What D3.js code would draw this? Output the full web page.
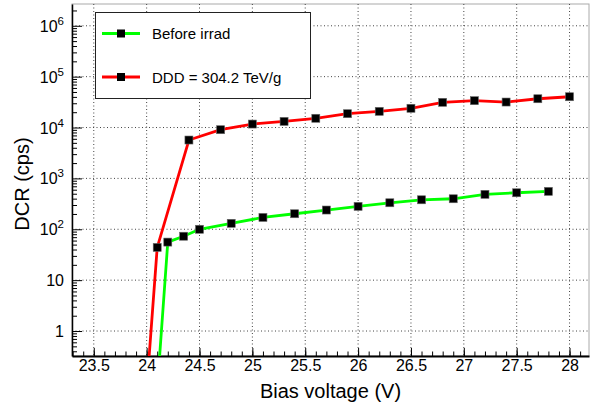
<!DOCTYPE html>
<html>
<head>
<meta charset="utf-8">
<script src="https://cdn.jsdelivr.net/npm/d3@7"></script>
<style>
  body { margin: 0; background: #fff; }
  text { font-family: "Liberation Sans", Arial, sans-serif; }
</style>
</head>
<body>
<svg id="chart" width="591" height="406"></svg>
<script>
// bias voltage (V) and dark count rate (cps) for both measurements
var voltBefore = [24.1, 24.2, 24.35, 24.5, 24.8, 25.1, 25.4, 25.7, 26.0, 26.3, 26.6, 26.9, 27.2, 27.5, 27.8];
var dcrBefore  = [0.07, 56, 73, 100, 131, 171, 202, 239, 282, 332, 380, 398, 486, 522, 556];

var voltIrrad = [24.0, 24.1, 24.4, 24.7, 25.0, 25.3, 25.6, 25.9, 26.2, 26.5, 26.8, 27.1, 27.4, 27.7, 28.0];
var dcrIrrad  = [0.07, 44, 5680, 9060, 11700, 13200, 15200, 18700, 20800, 23900, 31300, 33700, 31700, 36800, 40300];

var xTicks = [23.5, 24, 24.5, 25, 25.5, 26, 26.5, 27, 27.5, 28];
var yTicks = [1, 10, 100, 1e3, 1e4, 1e5, 1e6];
var legendLabels = ["Before irrad", "DDD = 304.2 TeV/g"];

var svg = d3.select("#chart");
var fLeft = 72, fRight = 589, fTop = 4, fBottom = 356;

var x = d3.scaleLinear().domain([23.294, 28.184]).range([fLeft, fRight]);
var y = d3.scaleLog().domain([0.323, 2.68e6]).range([fBottom, fTop]);

svg.append("defs").append("clipPath").attr("id", "frame")
  .append("rect").attr("x", fLeft).attr("y", fTop)
  .attr("width", fRight - fLeft).attr("height", fBottom - fTop);

// frame (top / right are light)
svg.append("rect")
  .attr("x", fLeft).attr("y", fTop)
  .attr("width", fRight - fLeft).attr("height", fBottom - fTop)
  .attr("fill", "none").attr("stroke", "#aaa").attr("stroke-width", 1);

// grid
var grid = svg.append("g").attr("stroke", "#444").attr("stroke-width", 1)
  .attr("stroke-dasharray", "1,2.5");
grid.selectAll(".gx").data(xTicks).enter().append("line")
  .attr("x1", function(d) { return x(d); }).attr("x2", function(d) { return x(d); })
  .attr("y1", fTop).attr("y2", fBottom);
grid.selectAll(".gy").data(yTicks).enter().append("line")
  .attr("x1", fLeft).attr("x2", fRight)
  .attr("y1", function(d) { return y(d); }).attr("y2", function(d) { return y(d); });

// x axis, ticks pointing inwards
var xMinor = d3.range(233, 282).map(function(d) { return d / 10; });
svg.append("g").attr("transform", "translate(0," + fBottom + ")")
  .call(d3.axisBottom(x).tickValues(xMinor).tickSize(-4.5).tickFormat(""))
  .call(function(g) { g.select(".domain").remove(); });
svg.append("g").attr("class", "xaxis").attr("transform", "translate(0," + fBottom + ")")
  .call(d3.axisBottom(x).tickValues(xTicks).tickSizeInner(-8).tickSizeOuter(0).tickPadding(4)
    .tickFormat(function(d) { return d; }))
  .call(function(g) {
    g.select(".domain").attr("stroke-width", 2);
    g.selectAll("text").attr("font-size", 16).attr("fill", "#000")
      .attr("font-family", "Liberation Sans, Arial, sans-serif");
  });

// y axis, log minor ticks
var yMinor = [];
for (var e = -1; e <= 6; e++) {
  for (var m = 2; m <= 9; m++) {
    var v = m * Math.pow(10, e);
    if (v > 0.323 && v < 2.68e6) yMinor.push(v);
  }
}
svg.append("g").attr("transform", "translate(" + fLeft + ",0)")
  .call(d3.axisLeft(y).tickValues(yMinor).tickSize(-5).tickFormat(""))
  .call(function(g) { g.select(".domain").remove(); });
svg.append("g").attr("transform", "translate(" + fLeft + ",0)")
  .call(d3.axisLeft(y).tickValues(yTicks).tickSizeInner(-10).tickSizeOuter(0).tickFormat(""))
  .call(function(g) { g.select(".domain").attr("stroke-width", 1.5); });

yTicks.forEach(function(d) {
  var e = Math.round(Math.log10(d));
  var t = svg.append("text").attr("font-size", 16).attr("text-anchor", "end")
    .attr("x", fLeft - 8).attr("y", y(d) + 6);
  if (e < 2) {
    t.text(d);
  } else {
    t.append("tspan").text("10");
    t.append("tspan").attr("font-size", 11.5).attr("dy", -7).text(e);
  }
});

// axis titles
svg.append("text").attr("font-size", 20).attr("text-anchor", "middle")
  .attr("x", (fLeft + fRight) / 2).attr("y", 398).text("Bias voltage (V)");
svg.append("text").attr("font-size", 20).attr("text-anchor", "middle")
  .attr("transform", "translate(29," + 184 + ") rotate(-90)").text("DCR (cps)");

// series
var line = d3.line()
  .x(function(d) { return x(d[0]); })
  .y(function(d) { return y(d[1]); });

function drawSeries(volts, dcr, colour) {
  var pts = d3.zip(volts, dcr);
  var g = svg.append("g").attr("clip-path", "url(#frame)");
  g.append("path").datum(pts)
    .attr("fill", "none").attr("stroke", colour).attr("stroke-width", 2.8)
    .attr("d", line);
  g.selectAll("rect").data(pts.filter(function(d) { return y(d[1]) < fBottom; }))
    .enter().append("rect")
    .attr("x", function(d) { return x(d[0]) - 4; })
    .attr("y", function(d) { return y(d[1]) - 4; })
    .attr("width", 8).attr("height", 8)
    .attr("fill", "#000").attr("stroke", "#666").attr("stroke-width", 0.6);
}
drawSeries(voltBefore, dcrBefore, "#00ff00");
drawSeries(voltIrrad, dcrIrrad, "#ff0000");

// legend
var leg = svg.append("g");
leg.append("rect").attr("x", 95.5).attr("y", 12.5).attr("width", 215).attr("height", 86)
  .attr("fill", "#fff").attr("stroke", "#222").attr("stroke-width", 1);
var legColours = ["#00ff00", "#ff0000"];
var legY = [33.5, 77];
legendLabels.forEach(function(lab, i) {
  leg.append("line").attr("x1", 102).attr("x2", 140)
    .attr("y1", legY[i]).attr("y2", legY[i])
    .attr("stroke", legColours[i]).attr("stroke-width", 2.8);
  leg.append("rect").attr("x", 117).attr("y", legY[i] - 4).attr("width", 8).attr("height", 8)
    .attr("fill", "#000");
  leg.append("text").attr("font-size", 15).attr("x", 152).attr("y", legY[i] + 5.5).text(lab);
});
</script>
</body>
</html>
